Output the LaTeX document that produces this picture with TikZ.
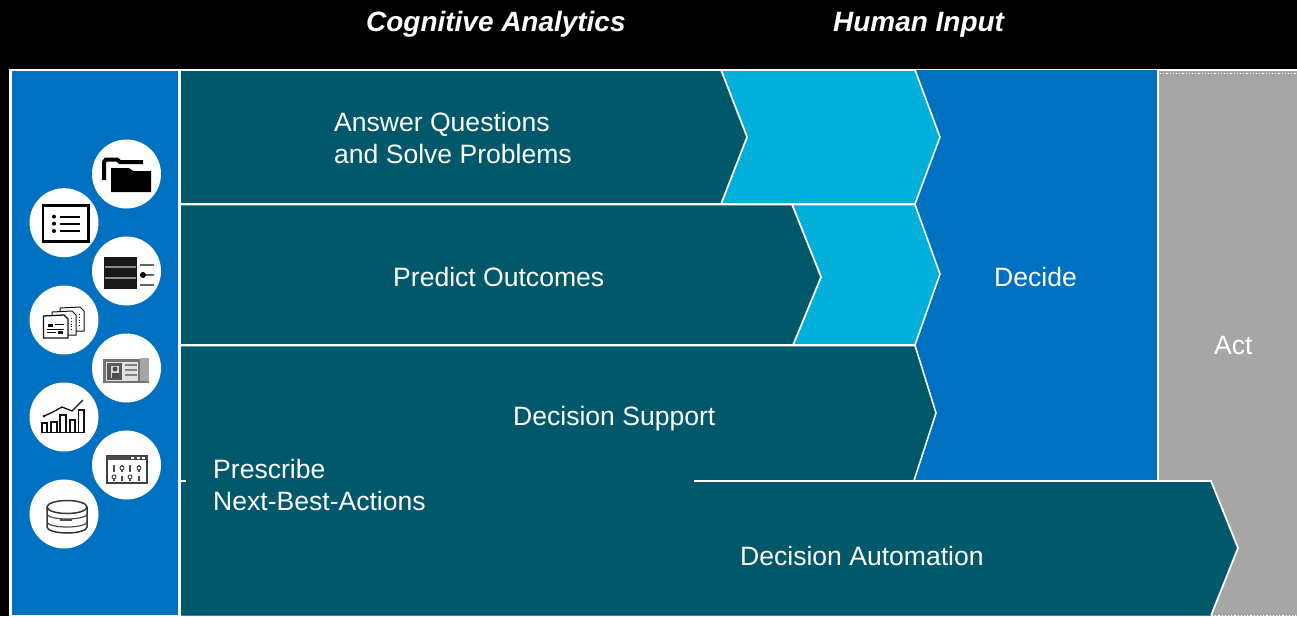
\documentclass[tikz,border=0pt]{standalone}
\usepackage{fontspec}
\setmainfont{Liberation Sans}
\definecolor{teal1}{HTML}{00586A}
\definecolor{teal2}{HTML}{3F8796}
\definecolor{blue1}{HTML}{0070C0}
\definecolor{cyan1}{HTML}{00B0DA}
\definecolor{gray1}{HTML}{A6A6A6}
\definecolor{ink}{HTML}{111111}
\tikzset{
  band/.style={draw=white,line width=1.6pt,line join=miter},
  lab/.style={text=white,anchor=base west,inner sep=0pt,font=\fontsize{26.55}{32}\selectfont,align=left},
  head/.style={text=white,anchor=base west,inner sep=0pt,font=\fontsize{27.95}{33}\selectfont\bfseries\itshape},
  disc/.style={circle,fill=white,minimum size=69pt,inner sep=0pt},
  thin/.style={draw=ink,line width=1pt},
  mid/.style={draw=ink,line width=1.8pt}
}
\begin{document}
\begin{tikzpicture}[x=1pt,y=-1pt]
\useasboundingbox (0,0) rectangle (1297,616);
\fill[black] (0,0) rectangle (1297,616);
% frame and left panel
\fill[white] (9,68.5) rectangle (1297,616);
\fill[blue1] (12,71) rectangle (178,615);
% gray Act band
\fill[gray1] (1159,71) rectangle (1297,616);
\draw[white,line width=1.2pt,dotted] (1160,73.5) -- (1297,73.5);
\draw[white,line width=1.2pt,dotted] (1212,615.5) -- (1297,615.5);
% Decide
\fill[blue1] (915,70) -- (1158,70) -- (1158,480) -- (914,480) -- (936,413) -- (915,345) -- (940,274) -- (915,204) -- (940,137) -- cycle;
\draw[white,line width=1.6pt] (1158,70) -- (1158,480);
% light chevrons
\draw[band,fill=cyan1] (721,70) -- (915,70) -- (940,137) -- (915,204) -- (721,204) -- (747,137) -- cycle;
\draw[band,fill=cyan1] (792,204.5) -- (915,204.5) -- (940,274) -- (915,345) -- (793,345) -- (821,277) -- cycle;
% dark arrows
\draw[band,fill=teal1] (181,70) -- (721,70) -- (747,137) -- (721,204) -- (181,204);
\draw[band,fill=teal1] (181,204.5) -- (792,204.5) -- (821,277) -- (793,345) -- (181,345);
\fill[teal1] (181,346) -- (915,346) -- (936,413) -- (914,480.5) -- (1211,481) -- (1238,548) -- (1211,615) -- (181,615) -- cycle;
\draw[white,line width=1.6pt] (181,345.5) -- (915,345.5) -- (936,413) -- (914,480.5);
\draw[white,line width=1.8pt] (694,481) -- (1211,481) -- (1238,548) -- (1211,615.5);
\draw[teal2,line width=1pt] (181,615.5) -- (1211,615.5);
\draw[white,line width=1.2pt] (181,481) -- (186,481);
\draw[white,line width=1.8pt] (179.5,69) -- (179.5,616);
% headings
\node[head] (h1) at (366,31) {Cognitive Analytics};
\node[head] (h2) at (833,31) {Human Input};
% labels
\node[lab] (t1) at (334,131) {Answer Questions};
\node[lab] (t1b) at (334,163) {and Solve Problems};
\node[lab] (t2) at (393,286) {Predict Outcomes};
\node[lab] (t3) at (513,425) {Decision Support};
\node[lab] (t4) at (213,478) {Prescribe};
\node[lab] (t4b) at (213,510) {Next-Best-Actions};
\node[lab] (t5) at (740,565) {Decision Automation};
\node[lab] (t6) at (994,286) {Decide};
\node[lab] (t7) at (1214,354) {Act};
% icon discs
\node[disc] (d1) at (126.5,174) {};
\node[disc] (d2) at (64,222.7) {};
\node[disc] (d3) at (126.5,271) {};
\node[disc] (d4) at (64,320) {};
\node[disc] (d5) at (126.5,368) {};
\node[disc] (d6) at (64,417) {};
\node[disc] (d7) at (126.5,465) {};
\node[disc] (d8) at (64,514) {};
% folder
\draw[black,line width=4pt] (104,180) -- (104,162) -- (106,159.5) -- (117,159.5) -- (120,162) -- (143,162);
\fill[white] (108,165) rectangle (153,194);
\fill[black] (111,168) -- (129,168) -- (133,171) -- (151,171) -- (151,192) -- (111,192) -- cycle;
% list
\draw[black,line width=2.6pt] (43,205.5) rectangle (88.5,241.5);
\foreach \yy in {216.7,223.7,231}{
  \fill[black] (54,\yy) circle (2pt);
  \draw[black,line width=2.4pt] (60,\yy) -- (80,\yy);
}
% server
\fill[black!90] (104,257) rectangle (137,289);
\draw[black!45,line width=1.2pt] (105,267) -- (136,267) (105,278) -- (136,278);
\draw[black!60,line width=2.4pt] (140,265) -- (154,265) (140,275) -- (154,275) (140,285) -- (154,285);
\fill[black] (143,275) circle (3pt);
% documents
\draw[thin,fill=white] (60,308) -- (80,307) -- (84,311) -- (84,331) -- (60,331) -- cycle;
\draw[thin,fill=white] (52,312) -- (72,311) -- (76,315) -- (76,335) -- (52,335) -- cycle;
\draw[mid,line width=1.3pt,fill=white] (43.5,316) -- (64,315) -- (68,319) -- (68,338) -- (43.5,338) -- cycle;
\fill[ink] (48,324) rectangle (53,327);
\fill[ink] (58,331) rectangle (63,334);
\draw[ink,line width=.8pt] (55,324.5) -- (64,324.5) (47,329) -- (64,329) (47,332.5) -- (56,332.5);
\draw[ink,line width=.8pt,dotted] (79,314) -- (79,328) (71,318) -- (71,332);
% id card
\fill[black!55] (103,359) rectangle (149,383);
\fill[black!35] (140,358) rectangle (149,381);
\fill[black!12] (106,362) rectangle (138,381);
\fill[black!65] (107,363) rectangle (122,380);
\fill[black!15] (111,366) rectangle (119,378);
\fill[black!70] (115,369) circle (2.5pt);
\fill[black!70] (111.5,378) rectangle (118.5,373);
\draw[black!50,line width=1.5pt] (125,365) -- (137,365) (125,370) -- (137,370) (125,375) -- (137,375);
% chart
\foreach \xa/\xb/\yt in {42/47/423,51/57/422,60/66/415,70/75/420,78.5/84/410}{
  \draw[ink,line width=1.2pt] (\xa,432) -- (\xa,\yt) -- (\xb,\yt) -- (\xb,432);
}
\draw[ink,line width=1.4pt] (41,432.5) -- (84.5,432.5);
\draw[ink,line width=1.3pt] (44,416) -- (52,412.5) -- (62,407) -- (72,411) -- (83,400);
\fill[ink] (44,416) circle (1.5pt);
% binary window
\draw[black!75,line width=2pt,fill=white] (106.5,456) rectangle (146.5,483);
\fill[black!70] (106.5,456) rectangle (146.5,460);
\foreach \xx in {131,137,142}{\fill[white] (\xx,457) rectangle +(3,1.8);}
\foreach \xx in {114,122,130,139}{
  \draw[black!70,line width=1.4pt] (\xx,465) -- (\xx,472);
  \draw[black!70,line width=1.4pt] (\xx,476) -- (\xx,481);
}
\foreach \xx in {122,139}{\draw[black!70,line width=1pt,fill=white] (\xx,468) circle (2pt);}
\foreach \xx in {114,130}{\draw[black!70,line width=1pt,fill=white] (\xx,477) circle (2pt);}
% database
\draw[ink!85,line width=1.5pt,fill=white] (47,507) -- (47,527) arc[start angle=180,end angle=0,x radius=20,y radius=6] -- (87,507);
\draw[ink!85,line width=1.5pt] (67,507) ellipse (20 and 6.5);
\draw[ink!75,line width=1.2pt] (47,514) arc[start angle=180,end angle=0,x radius=20,y radius=5];
\draw[ink!75,line width=1.2pt] (47,522) arc[start angle=180,end angle=0,x radius=20,y radius=5];
\draw[ink!75,line width=1.2pt] (60,520) -- (72,520);
\end{tikzpicture}
\end{document}
